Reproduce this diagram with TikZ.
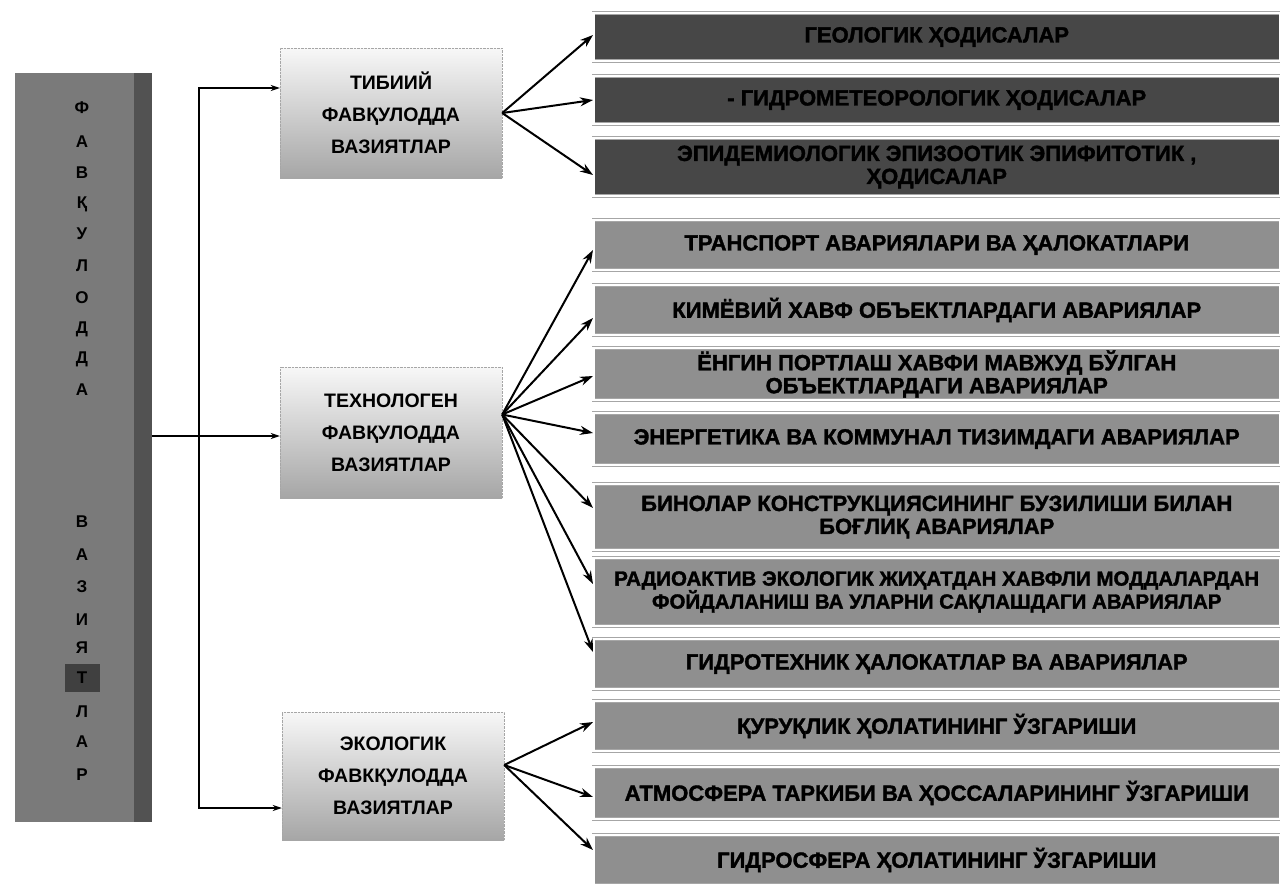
\documentclass[tikz,border=0pt]{standalone}
\usepackage{fontspec}
\setmainfont{Liberation Sans}
\newfontfamily\heavyfont{Liberation Sans}[FakeBold=1.6]
\usetikzlibrary{arrows.meta,calc}
\begin{document}
\begin{tikzpicture}[x=1pt,y=-1pt,
  rbox/.style={draw=black!35, double=white, double distance=2.5pt, line width=0.5pt,
    minimum width=687pt, anchor=west, inner sep=0pt, align=center,
    font=\heavyfont\fontsize{22}{23}\selectfont\bfseries, text=black},
  dark/.style={fill=black!72},
  mid/.style={fill=black!44},
  cbox/.style={minimum width=222pt, minimum height=130pt, top color=black!3, bottom color=black!35,
    draw=black!35, densely dotted, align=center, inner sep=0pt,
    font=\fontsize{19.5}{32}\selectfont\bfseries},
  larr/.style={line width=1.6pt, -{Stealth[length=9pt,width=6pt]}, black},
  rarr/.style={line width=2pt, -{Stealth[length=13pt,width=9pt]}, black},
  letter/.style={font=\fontsize{17}{17}\selectfont\bfseries, text=black, inner sep=1pt}
]
\useasboundingbox (0,0) rectangle (1280,884);
\fill[white] (0,0) rectangle (1280,884);

% left bar
\node[fill=black!52, minimum width=137pt, minimum height=749pt, inner sep=0pt] (bar) at (83.5,447.5) {};
\fill[black!68] ($(bar.north east)+(-18pt,0)$) rectangle (bar.south east);
\fill[black!75] (65,664) rectangle (100,692);
\foreach \yy/\ch [count=\i] in {108/Ф,142/А,173/В,204/Қ,234/У,266/Л,298/О,329/Д,359/Д,390/А,
  522/В,555/А,587/З,620/И,648/Я,678/Т,712/Л,742/А,775/Р}
  \node[letter] (L\i) at (82,\yy) {\ch};

% middle boxes
\node[cbox] (tib) at (391,113) {ТИБИИЙ\\ФАВҚУЛОДДА\\ВАЗИЯТЛАР};
\node[cbox, minimum height=131pt] (tech) at (391,432.5) {ТЕХНОЛОГЕН\\ФАВҚУЛОДДА\\ВАЗИЯТЛАР};
\node[cbox, minimum height=128pt] (eco) at (393,776) {ЭКОЛОГИК\\ФАВКҚУЛОДДА\\ВАЗИЯТЛАР};

% right boxes
\node[rbox, dark, minimum height=48pt] (r1) at (593,37) {ГЕОЛОГИК ҲОДИСАЛАР};
\node[rbox, dark, minimum height=48pt] (r2) at (593,100) {- ГИДРОМЕТЕОРОЛОГИК ҲОДИСАЛАР};
\node[rbox, dark, minimum height=58pt] (r3) at (593,167) {ЭПИДЕМИОЛОГИК ЭПИЗООТИК ЭПИФИТОТИК ,\\ҲОДИСАЛАР};
\node[rbox, mid, minimum height=50pt] (r4) at (593,245) {ТРАНСПОРТ АВАРИЯЛАРИ ВА ҲАЛОКАТЛАРИ};
\node[rbox, mid, minimum height=50pt] (r5) at (593,310) {КИМЁВИЙ ХАВФ ОБЪЕКТЛАРДАГИ АВАРИЯЛАР};
\node[rbox, mid, minimum height=52pt] (r6) at (593,374) {ЁНГИН ПОРТЛАШ ХАВФИ МАВЖУД БЎЛГАН\\ОБЪЕКТЛАРДАГИ АВАРИЯЛАР};
\node[rbox, mid, minimum height=52pt] (r7) at (593,439) {ЭНЕРГЕТИКА ВА КОММУНАЛ ТИЗИМДАГИ АВАРИЯЛАР};
\node[rbox, mid, minimum height=66pt] (r8) at (593,517) {БИНОЛАР КОНСТРУКЦИЯСИНИНГ БУЗИЛИШИ БИЛАН\\БОҒЛИҚ АВАРИЯЛАР};
\node[rbox, mid, minimum height=68pt, font=\heavyfont\fontsize{20.5}{23}\selectfont\bfseries] (r9) at (593,592) {РАДИОАКТИВ ЭКОЛОГИК ЖИҲАТДАН ХАВФЛИ МОДДАЛАРДАН\\ФОЙДАЛАНИШ ВА УЛАРНИ САҚЛАШДАГИ АВАРИЯЛАР};
\node[rbox, mid, minimum height=50pt] (r10) at (593,664) {ГИДРОТЕХНИК ҲАЛОКАТЛАР ВА АВАРИЯЛАР};
\node[rbox, mid, minimum height=50pt] (r11) at (593,726) {ҚУРУҚЛИК ҲОЛАТИНИНГ ЎЗГАРИШИ};
\node[rbox, mid, minimum height=52pt] (r12) at (593,793) {АТМОСФЕРА ТАРКИБИ ВА ҲОССАЛАРИНИНГ ЎЗГАРИШИ};
\node[rbox, mid, minimum height=50pt] (r13) at (593,860) {ГИДРОСФЕРА ҲОЛАТИНИНГ ЎЗГАРИШИ};

% left connectors
\coordinate (j) at (199,436);
\draw[larr] (bar.east |- j) -- (tech.west |- j);
\draw[larr] (j) |- ([yshift=25pt]tib.west);
\draw[larr] (j) |- ([yshift=-32pt]eco.west);

% right connectors
\coordinate (ts) at ([yshift=18pt]tech.east);
\coordinate (es) at ([yshift=11pt]eco.east);
\draw[rarr] (tib.east) -- ([yshift=2pt]r1.west);
\draw[rarr] (tib.east) -- (r2.west);
\draw[rarr] (tib.east) -- ([yshift=-8pt]r3.west);
\draw[rarr] (ts) -- ([yshift=-5pt]r4.west);
\draw[rarr] (ts) -- ([yshift=-8pt]r5.west);
\draw[rarr] (ts) -- ([yshift=-2pt]r6.west);
\draw[rarr] (ts) -- ([yshift=6pt]r7.west);
\draw[rarr] (ts) -- ([yshift=9pt]r8.west);
\draw[rarr] (ts) -- ([yshift=8pt]r9.west);
\draw[rarr] (ts) -- ([yshift=12pt]r10.west);
\draw[rarr] (es) -- ([yshift=4pt]r11.west);
\draw[rarr] (es) -- ([yshift=-4pt]r12.west);
\draw[rarr] (es) -- ([yshift=10pt]r13.west);
\end{tikzpicture}
\end{document}
